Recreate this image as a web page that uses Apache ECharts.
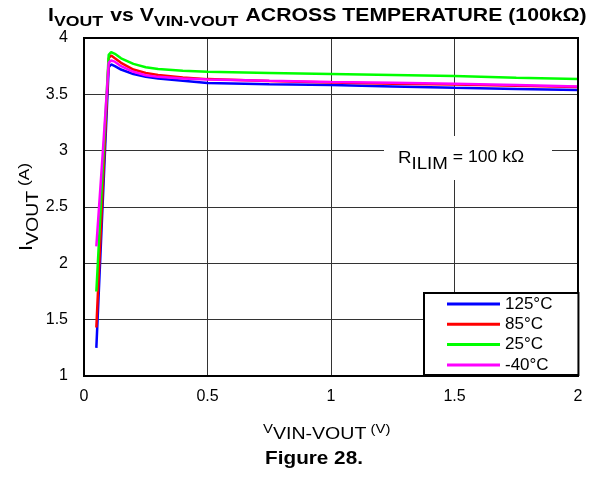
<!DOCTYPE html>
<html>
<head>
<meta charset="utf-8">
<script src="https://cdn.jsdelivr.net/npm/echarts@6/dist/echarts.min.js"></script>
<style>
  html, body { margin: 0; padding: 0; background: #fff; }
  #chart { width: 592px; height: 478px; }
</style>
</head>
<body>
<div id="chart"></div>
<script>
// Voltage drop V(VIN-VOUT) in volts
const vDrop = [0.05, 0.075, 0.1, 0.11, 0.125, 0.15, 0.2, 0.25, 0.3, 0.4, 0.5, 0.75, 1, 1.25, 1.5, 1.75, 2];

// Output current I(VOUT) in amps for each temperature
const i125 = [1.25, 2.50, 3.74, 3.765, 3.75, 3.72, 3.68, 3.655, 3.64, 3.62, 3.60, 3.59, 3.583, 3.57, 3.558, 3.548, 3.538];
const i85  = [1.43, 2.63, 3.82, 3.845, 3.82, 3.78, 3.72, 3.69, 3.672, 3.65, 3.635, 3.618, 3.605, 3.595, 3.588, 3.577, 3.565];
const i25  = [1.75, 2.80, 3.85, 3.875, 3.86, 3.82, 3.77, 3.74, 3.725, 3.71, 3.70, 3.69, 3.68, 3.671, 3.662, 3.648, 3.635];
const iM40 = [2.15, 2.95, 3.78, 3.80, 3.79, 3.75, 3.70, 3.67, 3.655, 3.64, 3.632, 3.62, 3.61, 3.602, 3.594, 3.582, 3.57];

const seriesNames = ['125°C', '85°C', '25°C', '-40°C'];
const seriesColors = ['#0000ff', '#ff0000', '#00ff00', '#ff00ff'];
const seriesValues = [i125, i85, i25, iM40];

const xTicks = { min: 0, max: 2, interval: 0.5 };
const yTicks = { min: 1, max: 4, interval: 0.5 };

const FONT = '"Liberation Sans", Arial, sans-serif';
// text in this figure is set slightly wide
const STRETCH = 1.15;

const chart = echarts.init(document.getElementById('chart'), null, { renderer: 'canvas' });

const series = seriesValues.map((vals, k) => ({
  name: seriesNames[k],
  type: 'line',
  data: vDrop.map((x, i) => [x, vals[i]]),
  showSymbol: false,
  smooth: false,
  lineStyle: { color: seriesColors[k], width: 2.5 },
  itemStyle: { color: seriesColors[k] },
  z: 3 + k
}));

const txt = (size, bold, extra) => Object.assign({ fontSize: size, fontWeight: bold ? 'bold' : 'normal', fontFamily: FONT, color: '#000' }, extra || {});
const sub = (size, bold, padR) => txt(size, bold, { padding: [Math.round(size * 0.75), padR || 0, 0, 0] });
const sup = (size, bold, k) => txt(size, bold, { padding: [0, 0, Math.round(size * (k || 0.8)), 0] });

chart.setOption({
  animation: false,
  backgroundColor: '#fff',
  grid: { left: 84, right: 14, top: 38, bottom: 102, show: true, borderColor: '#000', borderWidth: 2, backgroundColor: 'transparent', z: 10 },
  xAxis: {
    type: 'value', min: xTicks.min, max: xTicks.max, interval: xTicks.interval,
    axisLine: { show: false }, axisTick: { show: false },
    axisLabel: { color: '#000', fontSize: 16, fontFamily: FONT, margin: 13 },
    splitLine: { show: true, lineStyle: { color: '#333', width: 1 } }
  },
  yAxis: {
    type: 'value', min: yTicks.min, max: yTicks.max, interval: yTicks.interval,
    axisLine: { show: false }, axisTick: { show: false },
    axisLabel: { color: '#000', fontSize: 16, fontFamily: FONT, margin: 16 },
    splitLine: { show: true, lineStyle: { color: '#333', width: 1 } }
  },
  legend: {
    orient: 'vertical', left: 424, top: 293,
    data: seriesNames,
    icon: 'rect', itemWidth: 53, itemHeight: 3, itemGap: 0.3,
    padding: [1, 26, 0, 23],
    backgroundColor: '#fff', borderColor: '#000', borderWidth: 2, borderRadius: 0,
    textStyle: { color: '#000', fontSize: 17, fontFamily: FONT, lineHeight: 20 },
    selectedMode: false, z: 20
  },
  series: series,
  graphic: [
    {
      type: 'rect', shape: { x: 384, y: 136, width: 168, height: 44 },
      style: { fill: '#fff' }, z: 5, silent: true
    },
    {
      type: 'text', x: 398, y: 158, z: 6, scaleX: 1.1,
      style: {
        text: '{b|R}{s|ILIM}{c| = 100 kΩ}',
        verticalAlign: 'middle',
        rich: { b: txt(17), s: sub(17), c: txt(16) }
      }
    },
    {
      type: 'text', x: 48, y: 16, z: 6, scaleX: 1.18,
      style: {
        text: '{b|I}{s|VOUT}{b| vs V}{s|VIN-VOUT}{b| ACROSS TEMPERATURE (100kΩ)}',
        verticalAlign: 'middle',
        rich: { b: txt(18, true), s: sub(15, true, 1) }
      }
    },
    {
      type: 'text', x: 263, y: 434, z: 6, scaleX: STRETCH,
      style: {
        text: '{u|V}{b|VIN-VOUT}{u| (V)}',
        verticalAlign: 'middle',
        rich: { b: txt(17), u: sup(13) }
      }
    },
    {
      type: 'text', x: 314, y: 459, z: 6, scaleX: STRETCH,
      style: {
        text: 'Figure 28.', align: 'center', verticalAlign: 'middle',
        font: 'bold 18px ' + FONT, fill: '#000'
      }
    },
    {
      type: 'text', x: 27, y: 207, rotation: Math.PI / 2, z: 6, scaleX: STRETCH,
      style: {
        text: '{b|I}{s|VOUT}{u| (A)}',
        align: 'center', verticalAlign: 'middle',
        rich: { b: txt(19), s: sub(17), u: sup(15, false, 0.35) }
      }
    }
  ]
});
</script>
</body>
</html>
